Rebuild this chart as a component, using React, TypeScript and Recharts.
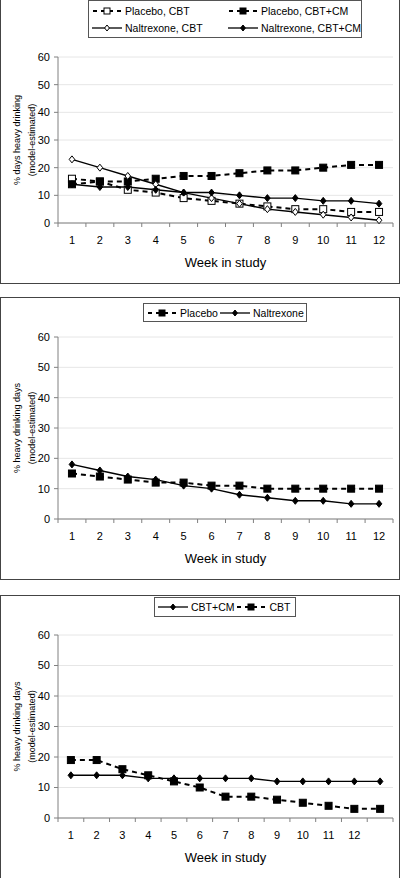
import { LineChart, Line, XAxis, YAxis, CartesianGrid, Legend, Label } from 'recharts'

// weeks and tick values
const weeks12 = [1, 2, 3, 4, 5, 6, 7, 8, 9, 10, 11, 12]
const weeks13 = [1, 2, 3, 4, 5, 6, 7, 8, 9, 10, 11, 12, 13]
const weekLabelTicks = [1, 2, 3, 4, 5, 6, 7, 8, 9, 10, 11, 12]
const edgeTicks12 = [0.5, 1.5, 2.5, 3.5, 4.5, 5.5, 6.5, 7.5, 8.5, 9.5, 10.5, 11.5, 12.5]
const edgeTicks13 = [0.5, 1.5, 2.5, 3.5, 4.5, 5.5, 6.5, 7.5, 8.5, 9.5, 10.5, 11.5, 12.5, 13.5]
const yTicks = [0, 10, 20, 30, 40, 50, 60]

// panel 1: medication x behavioural arms
const placeboCbt = [16, 15, 12, 11, 9, 8, 7, 6, 5, 5, 4, 4]
const placeboCbtCm = [14, 15, 15, 16, 17, 17, 18, 19, 19, 20, 21, 21]
const naltrexoneCbt = [23, 20, 17, 14, 11, 9, 7, 5, 4, 3, 2, 1]
const naltrexoneCbtCm = [14, 13, 13, 12, 11, 11, 10, 9, 9, 8, 8, 7]

// panel 2: medication main effect
const placebo = [15, 14, 13, 12, 12, 11, 11, 10, 10, 10, 10, 10]
const naltrexone = [18, 16, 14, 13, 11, 10, 8, 7, 6, 6, 5, 5]

// panel 3: behavioural main effect
const cbtCm = [14, 14, 14, 13, 13, 13, 13, 13, 12, 12, 12, 12, 12]
const cbt = [19, 19, 16, 14, 12, 10, 7, 7, 6, 5, 4, 3, 3]

const FONT = '"Liberation Sans", Arial, Helvetica, sans-serif'
const AXIS = '#808080'
const TICK_SIZE = 4
const TICK_MARGIN = 9

type MarkerKind = 'square' | 'squareOpen' | 'diamond' | 'diamondOpen'

interface Series {
  key: string
  name: string
  values: number[]
  dashed: boolean
  marker: MarkerKind
  size: number
}

function Marker({ kind, cx, cy, size }: { kind: MarkerKind; cx: number; cy: number; size: number }) {
  const h = size / 2
  const open = kind === 'squareOpen' || kind === 'diamondOpen'
  const fill = open ? '#fff' : '#000'
  if (kind === 'square' || kind === 'squareOpen') {
    return <rect x={cx - h} y={cy - h} width={size} height={size} fill={fill} stroke="#000" strokeWidth={1} />
  }
  return (
    <polygon
      points={`${cx},${cy - h} ${cx + h * 0.8},${cy} ${cx},${cy + h} ${cx - h * 0.8},${cy}`}
      fill={fill}
      stroke="#000"
      strokeWidth={1}
    />
  )
}

// integer ticks carry the week label, half ticks draw the Excel-style separator mark
function WeekTick(props: any) {
  const { x, y, payload } = props
  const v = payload.value as number
  if (Number.isInteger(v)) {
    return (
      <text x={x} y={y} dy="0.71em" textAnchor="middle" fontSize={11} fill="#000" fontFamily={FONT}>
        {v}
      </text>
    )
  }
  const axisY = y - TICK_MARGIN - TICK_SIZE
  return <line x1={x} x2={x} y1={axisY} y2={axisY + TICK_SIZE} stroke={AXIS} />
}

function LegendIcon({ s }: { s: Series }) {
  return (
    <svg width={30} height={10} style={{ flex: 'none', marginRight: 3 }}>
      {s.dashed ? (
        <>
          <line x1={1} y1={5} x2={5} y2={5} stroke="#000" strokeWidth={2} />
          <line x1={9} y1={5} x2={21} y2={5} stroke="#000" strokeWidth={2} />
          <line x1={25} y1={5} x2={29} y2={5} stroke="#000" strokeWidth={2} />
        </>
      ) : (
        <line x1={0} y1={5} x2={30} y2={5} stroke="#000" strokeWidth={1.3} />
      )}
      <Marker kind={s.marker} cx={15} cy={5} size={6} />
    </svg>
  )
}

function LegendBox({ series, columns }: { series: Series[]; columns?: string }) {
  return (
    <div
      style={{
        boxSizing: 'border-box',
        width: '100%',
        height: '100%',
        border: '1px solid #555',
        background: '#fff',
        padding: columns ? '4px 3px' : '3px 3px',
        display: columns ? 'grid' : 'flex',
        gridTemplateColumns: columns,
        rowGap: 5,
        alignItems: 'center',
        fontFamily: FONT,
        fontSize: 10.5,
        color: '#000',
        whiteSpace: 'nowrap',
      }}
    >
      {series.map((s) => (
        <div key={s.key} style={{ display: 'flex', alignItems: 'center', marginRight: columns ? 0 : 2 }}>
          <LegendIcon s={s} />
          <span>{s.name}</span>
        </div>
      ))}
    </div>
  )
}

function YTitle({ line1, viewBox }: { line1: string; viewBox?: any }) {
  if (!viewBox) return null
  const cy = viewBox.y + viewBox.height / 2
  const x1 = viewBox.x + 17
  const x2 = viewBox.x + 32
  return (
    <g fontFamily={FONT} fontSize={9} fill="#000">
      <text x={x1} y={cy} textAnchor="middle" dominantBaseline="central" transform={`rotate(-90, ${x1}, ${cy})`}>
        {line1}
      </text>
      <text x={x2} y={cy} textAnchor="middle" dominantBaseline="central" transform={`rotate(-90, ${x2}, ${cy})`}>
        (model-estimated)
      </text>
    </g>
  )
}

interface PanelProps {
  top: number
  height: number
  boxTop: number
  boxHeight: number
  plotTop: number
  weeks: number[]
  edgeTicks: number[]
  series: Series[]
  yTitle: string
  legend: { left: number; top: number; width: number; height: number; columns?: string }
}

function Panel({ top, height, boxTop, boxHeight, plotTop, weeks, edgeTicks, series, yTitle, legend }: PanelProps) {
  const rows = weeks.map((w, i) => {
    const row: Record<string, number> = { week: w }
    series.forEach((s) => {
      row[s.key] = s.values[i]
    })
    return row
  })
  const domain = [edgeTicks[0], edgeTicks[edgeTicks.length - 1]]
  const xTicks = [...edgeTicks, ...weekLabelTicks].sort((a, b) => a - b)

  return (
    <>
      <div style={{ position: 'absolute', left: 0, top: boxTop, width: 398, height: boxHeight, border: '1px solid #444' }} />
      <div style={{ position: 'absolute', left: 0, top, width: 400, height, fontFamily: FONT }}>
        <LineChart width={400} height={height} data={rows} margin={{ top: plotTop, right: 7, bottom: 0, left: 0 }}>
          <CartesianGrid vertical={false} stroke="#e6e6e6" />
          <XAxis
            dataKey="week"
            type="number"
            domain={domain}
            ticks={xTicks}
            interval={0}
            height={60}
            axisLine={{ stroke: AXIS }}
            tickLine={false}
            tickSize={TICK_SIZE}
            tickMargin={TICK_MARGIN}
            tick={<WeekTick />}
          >
            <Label value="Week in study" position="insideBottom" offset={16} style={{ fontSize: 13, fill: '#000' }} />
          </XAxis>
          <YAxis
            domain={[0, 60]}
            ticks={yTicks}
            interval={0}
            width={58}
            axisLine={{ stroke: AXIS }}
            tickLine={{ stroke: AXIS }}
            tickSize={4}
            tickMargin={4}
            tick={{ fontSize: 11, fill: '#000' }}
          >
            <Label content={(props: any) => <YTitle line1={yTitle} viewBox={props.viewBox} />} />
          </YAxis>
          {series.map((s) => (
            <Line
              key={s.key}
              dataKey={s.key}
              name={s.name}
              stroke="#000"
              strokeWidth={s.dashed ? 2 : 1.4}
              strokeDasharray={s.dashed ? '5 4' : undefined}
              isAnimationActive={false}
              activeDot={false}
              dot={(p: any) => <Marker key={`${s.key}-${p.index}`} kind={s.marker} cx={p.cx} cy={p.cy} size={s.size} />}
            />
          ))}
          <Legend
            layout="horizontal"
            verticalAlign="middle"
            align="center"
            wrapperStyle={{ top: legend.top, left: legend.left, width: legend.width, height: legend.height }}
            content={() => <LegendBox series={series} columns={legend.columns} />}
          />
        </LineChart>
      </div>
    </>
  )
}

const panel1Series: Series[] = [
  { key: 'pc', name: 'Placebo, CBT', values: placeboCbt, dashed: true, marker: 'squareOpen', size: 7 },
  { key: 'pcm', name: 'Placebo, CBT+CM', values: placeboCbtCm, dashed: true, marker: 'square', size: 7 },
  { key: 'nc', name: 'Naltrexone, CBT', values: naltrexoneCbt, dashed: false, marker: 'diamondOpen', size: 7 },
  { key: 'ncm', name: 'Naltrexone, CBT+CM', values: naltrexoneCbtCm, dashed: false, marker: 'diamond', size: 7 },
]

const panel2Series: Series[] = [
  { key: 'p', name: 'Placebo', values: placebo, dashed: true, marker: 'square', size: 7 },
  { key: 'n', name: 'Naltrexone', values: naltrexone, dashed: false, marker: 'diamond', size: 7 },
]

const panel3Series: Series[] = [
  { key: 'cm', name: 'CBT+CM', values: cbtCm, dashed: false, marker: 'diamond', size: 7 },
  { key: 'c', name: 'CBT', values: cbt, dashed: true, marker: 'square', size: 7 },
]

export default function App() {
  return (
    <div style={{ position: 'absolute', left: 0, top: 0, width: 400, height: 878, background: '#fff', overflow: 'hidden' }}>
      <Panel
        top={0}
        height={283}
        boxTop={-1}
        boxHeight={283}
        plotTop={57}
        weeks={weeks12}
        edgeTicks={edgeTicks12}
        series={panel1Series}
        yTitle="% days heavy drinking"
        legend={{ left: 88, top: 0, width: 274, height: 38, columns: '136px auto' }}
      />
      <Panel
        top={297}
        height={282}
        boxTop={297}
        boxHeight={281}
        plotTop={40}
        weeks={weeks12}
        edgeTicks={edgeTicks12}
        series={panel2Series}
        yTitle="% heavy drinking days"
        legend={{ left: 143, top: 6, width: 164, height: 19 }}
      />
      <Panel
        top={595}
        height={283}
        boxTop={595}
        boxHeight={300}
        plotTop={40}
        weeks={weeks13}
        edgeTicks={edgeTicks13}
        series={panel3Series}
        yTitle="% heavy drinking days"
        legend={{ left: 154, top: 2, width: 142, height: 20 }}
      />
    </div>
  )
}
